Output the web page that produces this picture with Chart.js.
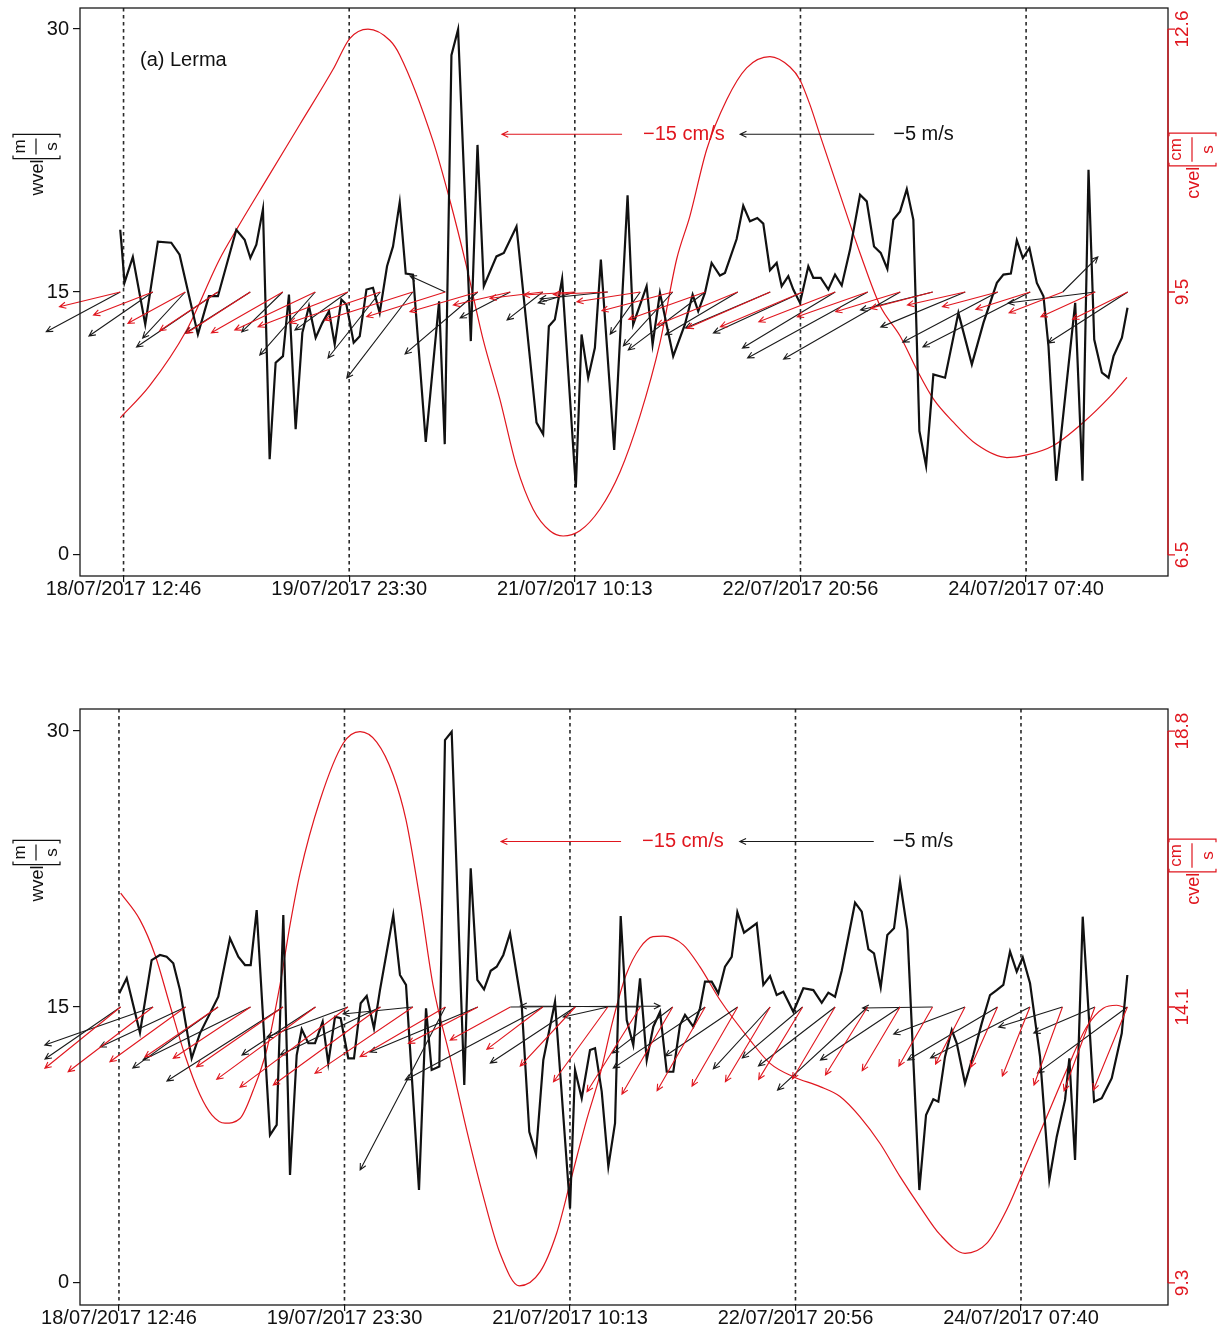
<!DOCTYPE html>
<html>
<head>
<meta charset="utf-8">
<script src="https://cdn.jsdelivr.net/npm/chart.js@4.4.0/dist/chart.umd.min.js"></script>
<style>
  body { margin: 0; background: #fff; }
  #boxA { position: absolute; left: 0; top: 0; width: 1217px; height: 650px; }
  #boxB { position: absolute; left: 0; top: 650px; width: 1217px; height: 679px; }
</style>
</head>
<body>
<div id="boxA"><canvas id="lermaChart"></canvas></div>
<div id="boxB"><canvas id="champotonChart"></canvas></div>
<script>
// time axis: hours after 18/07/2017 12:46
const dateTickHours = [0, 34.717, 69.433, 104.15, 138.867];
const dateTickLabels = ["18/07/2017 12:46", "19/07/2017 23:30", "21/07/2017 10:13", "22/07/2017 20:56", "24/07/2017 07:40"];
const wvelTicks = [0, 15, 30];

// ---- Lerma ----
const lermaWindHours = [-0.51,-0.31,0.15,1.43,3.34,5.28,7.34,8.62,11.44,13.13,14.52,17.35,18.63,19.51,20.43,21.45,22.48,23.40,24.53,25.45,26.48,27.51,28.53,29.56,30.59,31.61,32.49,33.52,34.29,35.41,36.34,37.37,38.38,39.41,40.54,41.46,42.49,43.42,44.54,46.50,48.55,49.42,50.45,51.47,53.43,54.46,55.43,57.38,58.51,60.46,63.54,64.56,65.44,66.36,67.48,69.59,70.47,71.49,72.52,73.44,75.49,77.55,78.41,80.48,81.40,82.53,84.57,86.37,87.56,88.42,89.45,90.48,91.76,92.53,94.33,95.35,96.38,97.51,98.43,99.46,100.49,101.26,102.28,103.05,104.08,105.36,106.13,107.27,108.44,109.47,110.50,111.78,113.32,114.35,115.47,116.50,117.52,118.44,119.48,120.51,121.52,122.45,123.48,124.60,126.40,128.45,130.52,132.30,134.37,135.38,136.52,137.44,138.37,139.38,140.52,141.54,142.31,143.50,146.42,147.54,148.47,149.35,150.53,151.55,152.32,153.61,154.47];
const lermaWindSpeed = [18.55,17.70,15.54,17.00,13.15,17.87,17.81,17.13,12.58,14.76,14.76,18.55,17.98,16.94,17.70,19.73,5.46,10.97,11.34,14.85,7.17,12.67,14.19,12.39,13.24,13.90,12.01,14.57,14.29,12.11,12.48,15.14,15.24,13.81,16.47,17.60,20.11,16.05,15.99,6.45,14.47,6.32,28.51,29.98,12.20,23.39,15.33,17.03,17.23,18.74,7.55,6.89,13.05,13.43,15.75,3.85,12.58,10.11,11.82,16.85,5.99,20.51,13.15,15.33,12.01,14.95,11.34,13.15,14.85,13.90,14.95,16.66,15.94,16.09,18.02,19.92,19.03,19.22,18.90,16.24,16.66,15.33,15.90,15.14,14.38,16.47,15.81,15.81,15.14,15.99,15.37,17.42,20.55,20.17,17.60,17.23,16.32,19.12,19.60,20.87,19.12,7.07,5.08,10.30,10.11,13.81,10.87,13.24,15.52,15.99,16.05,17.95,16.94,17.51,15.52,14.76,11.91,4.23,14.38,4.23,21.97,12.29,10.40,10.11,11.34,12.39,14.10];
const lermaCurHours = [-0.51,4.00,9.65,14.78,17.35,21.97,27.10,32.22,34.80,37.61,40.95,42.49,47.62,50.19,52.76,55.32,57.89,60.46,63.02,65.59,67.64,70.21,73.29,76.37,79.45,82.53,85.10,87.14,89.71,92.80,95.87,99.46,102.54,104.08,105.62,107.16,110.24,113.32,116.40,119.48,122.05,124.60,127.68,131.29,135.91,138.99,143.08,147.70,151.81,154.38];
const lermaCurSpeed = [8.09,8.46,9.10,9.93,10.27,10.85,11.49,12.13,12.49,12.60,12.47,12.30,11.30,10.62,9.85,9.00,8.31,7.53,7.03,6.78,6.72,6.78,7.03,7.46,8.11,8.96,9.93,10.43,11.20,11.78,12.15,12.28,12.16,12.01,11.72,11.37,10.68,10.00,9.39,9.04,8.65,8.31,8.04,7.78,7.63,7.66,7.77,8.04,8.34,8.56];
const lermaCvelTicks = [6.5, 9.55, 12.6];
const lermaCvelLabels = ["6.5", "9.5", "12.6"];
// stick vectors every 5 h: wind (m/s) and current (cm/s)
const lermaStickHours = [-0.5,4.5,9.5,14.5,19.5,24.5,29.5,34.5,39.5,44.5,49.5,54.5,59.5,64.5,69.5,74.5,79.5,84.5,89.5,94.5,99.5,104.5,109.5,114.5,119.5,124.5,129.5,134.5,139.5,144.5,149.5,154.5];
const lermaWindU = [-2.76,-2.38,-1.59,-3.03,-2.41,-1.53,-2.07,-1.97,-1.95,-2.46,-1.31,-2.71,-1.87,-1.33,-1.38,-2.52,-1.12,-1.84,-2.87,-2.70,-3.16,-3.33,-3.46,-4.48,-4.35,-2.69,-3.15,-3.54,-4.00,1.31,-3.25,-2.97];
const lermaWindV = [-1.48,-1.64,-1.72,-2.05,-1.53,-1.49,-2.35,-1.42,-2.46,-3.21,0.60,-2.31,-0.97,-1.04,-0.41,-0.26,-1.57,-2.01,-2.16,-1.60,-1.34,-1.53,-2.09,-2.46,-2.50,-0.67,-1.31,-1.87,-2.05,1.31,-0.41,-1.90];
const lermaCurU = [-7.59,-7.40,-7.16,-7.26,-7.98,-8.91,-10.05,-11.20,-11.29,-10.98,-9.81,-8.46,-7.10,-6.58,-6.46,-6.78,-7.90,-8.84,-9.56,-10.08,-10.38,-10.28,-9.54,-8.80,-8.06,-7.75,-7.21,-6.90,-6.79,-6.69,-6.78,-6.88];
const lermaCurV = [-1.84,-2.88,-3.91,-4.84,-5.16,-5.09,-4.75,-4.34,-3.84,-3.50,-3.09,-2.46,-1.63,-0.79,-0.38,-0.29,-1.21,-2.34,-3.41,-4.13,-4.54,-4.34,-3.71,-3.09,-2.46,-2.04,-1.63,-1.84,-2.16,-2.59,-3.09,-3.41];

// ---- Champotón ----
const champWindHours = [0.05,1.19,3.23,5.03,6.31,7.34,8.36,9.39,11.19,12.47,15.29,17.09,18.37,19.40,20.28,21.20,23.25,24.28,25.30,26.33,27.36,28.13,29.15,30.18,31.36,32.22,33.26,34.13,35.30,36.18,37.21,38.14,39.26,40.18,42.23,43.26,44.19,46.19,47.27,48.14,49.32,50.19,51.22,53.16,54.15,55.17,56.20,57.23,58.15,59.17,60.20,62.00,63.17,64.20,65.33,67.13,69.44,70.21,71.24,72.52,73.29,74.32,75.34,76.37,77.24,78.17,79.18,80.22,81.25,82.26,83.30,84.33,85.34,86.37,87.14,88.42,89.45,90.22,91.25,92.27,93.30,94.33,95.20,96.23,98.18,99.20,100.23,101.26,102.28,103.82,105.36,106.90,108.19,109.21,110.24,111.27,113.32,114.35,115.37,116.24,117.27,118.29,119.32,120.25,121.37,123.22,124.25,125.37,126.14,127.17,128.21,128.98,130.25,131.53,132.82,134.10,135.13,136.15,137.18,138.21,139.14,140.26,141.80,143.23,144.37,145.65,146.31,147.19,148.37,150.12,151.30,152.84,154.38,155.24];
const champWindSpeed = [15.74,16.56,13.60,17.55,17.83,17.73,17.38,15.92,12.21,13.57,15.56,18.73,17.73,17.28,17.28,20.27,8.04,8.59,20.00,5.87,12.39,13.79,13.03,13.03,14.20,11.94,14.47,14.39,12.21,12.21,15.20,15.60,13.84,15.92,20.00,16.74,16.20,5.05,14.93,11.58,11.76,29.51,29.96,10.76,22.54,16.47,15.96,16.97,17.19,17.83,19.01,15.11,8.22,7.01,12.12,15.29,4.06,11.58,10.04,12.66,12.76,10.40,6.32,8.68,19.95,14.29,12.93,16.56,12.12,13.93,14.74,11.48,11.48,14.02,14.57,13.93,14.93,16.38,16.38,15.74,17.19,17.73,20.15,19.04,19.55,16.20,16.68,15.65,15.83,14.74,16.02,15.92,15.23,15.78,15.56,16.97,20.67,20.18,18.14,17.92,16.07,18.91,19.28,21.81,19.18,5.05,9.13,9.98,9.85,12.30,13.75,13.03,10.85,12.39,14.11,15.65,15.92,16.20,18.01,16.92,17.70,16.29,12.30,5.60,7.95,9.95,12.21,6.68,19.91,9.85,10.04,11.13,13.57,16.74];
const champCurHours = [0.26,3.23,5.54,7.85,10.16,12.47,14.32,16.32,18.63,20.68,22.74,24.79,26.33,27.87,30.95,34.53,37.11,39.68,42.23,44.19,46.35,48.34,50.96,53.53,56.09,58.66,61.63,64.82,67.39,69.44,72.01,74.05,76.06,78.06,80.22,82.22,83.76,86.88,89.45,92.53,97.15,100.23,103.82,107.93,111.01,114.09,117.17,120.25,123.33,126.41,130.25,133.59,136.67,139.75,142.83,145.91,148.99,151.54,153.60,155.14];
const champCurSpeed = [16.01,15.55,14.95,14.08,13.22,12.54,12.19,12.05,12.13,12.62,13.31,14.43,15.46,16.35,17.61,18.59,18.79,18.61,18.04,17.27,15.89,14.43,13.19,11.93,10.79,9.81,9.25,9.49,10.16,11.02,12.11,12.88,13.83,14.60,15.07,15.26,15.27,15.12,14.74,14.17,13.48,13.08,12.85,12.68,12.51,12.16,11.70,11.13,10.61,10.13,9.81,9.98,10.56,11.36,12.16,12.97,13.71,14.03,14.08,14.03];
const champCvelTicks = [9.3, 14.05, 18.8];
const champCvelLabels = ["9.3", "14.1", "18.8"];
const champStickHours = [0.25,5.25,10.25,15.25,20.25,25.25,30.25,35.25,40.25,45.25,50.25,55.25,60.25,65.25,70.25,75.25,80.25,85.25,90.25,95.25,100.25,105.25,110.25,115.25,120.25,125.25,130.25,135.25,140.25,145.25,150.25,155.25];
const champWindU = [-2.82,-4.04,-3.19,-3.18,-4.01,-4.33,-2.74,-3.02,-3.74,-2.60,-3.18,-4.02,5.59,-5.13,-3.17,-1.66,-4.47,-2.25,-3.43,-2.70,-2.12,-2.25,-2.86,-3.36,-2.97,-2.61,-2.66,-3.35,-3.71,-2.38,-2.28,-3.35];
const champWindV = [-1.94,-1.42,-1.49,-2.28,-1.98,-2.76,-1.79,-1.12,-1.79,-0.26,-6.08,-1.68,0.04,-2.72,-2.09,-0.37,0.04,-1.72,-2.28,-1.83,-2.31,-1.90,-2.20,-3.10,-1.98,-0.04,-1.01,-1.98,-1.90,-0.75,-0.97,-2.46];
const champCurU = [-9.46,-10.61,-9.45,-9.14,-9.65,-10.79,-12.34,-13.49,-13.38,-12.23,-10.65,-8.68,-7.51,-6.99,-6.88,-6.78,-6.65,-6.34,-6.01,-5.70,-5.59,-5.49,-5.33,-5.26,-4.73,-4.21,-3.68,-3.36,-3.45,-3.56,-3.86,-4.25];
const champCurV = [-7.66,-8.09,-6.84,-6.25,-6.41,-7.46,-9.04,-10.04,-9.75,-8.29,-6.21,-4.54,-4.13,-5.29,-7.38,-9.34,-10.59,-10.88,-10.46,-9.88,-9.34,-9.04,-9.00,-8.50,-7.96,-7.38,-7.13,-7.54,-8.63,-9.75,-10.46,-10.38];

const RED = '#e0161e';
const INK = '#111111';
const FONT = '"Liberation Sans", Arial, Helvetica, sans-serif';
Chart.defaults.font.family = FONT;
Chart.defaults.color = INK;

function drawArrow(ctx, x0, y0, x1, y1, color) {
  const head = 7, spread = 0.45;
  const ang = Math.atan2(y1 - y0, x1 - x0);
  ctx.strokeStyle = color;
  ctx.lineWidth = 1.1;
  ctx.beginPath();
  ctx.moveTo(x0, y0);
  ctx.lineTo(x1, y1);
  ctx.moveTo(x1 - head * Math.cos(ang - spread), y1 - head * Math.sin(ang - spread));
  ctx.lineTo(x1, y1);
  ctx.lineTo(x1 - head * Math.cos(ang + spread), y1 - head * Math.sin(ang + spread));
  ctx.stroke();
}

// rotated axis title like  wvel[m/s]  with the unit as a fraction
function drawUnitTitle(ctx, cx, cy, name, num, den, color) {
  ctx.save();
  ctx.translate(cx, cy);
  ctx.rotate(-Math.PI / 2);
  ctx.fillStyle = color;
  ctx.strokeStyle = color;
  ctx.lineWidth = 1.2;
  ctx.textBaseline = 'alphabetic';
  ctx.font = '18px ' + FONT;
  const wName = ctx.measureText(name).width;
  ctx.font = '17px ' + FONT;
  const wFrac = Math.max(ctx.measureText(num).width, ctx.measureText(den).width) + 2;
  const br = 4;
  const total = wName + 1 + br + wFrac + br;
  let u = -total / 2;
  ctx.font = '18px ' + FONT;
  ctx.textAlign = 'left';
  ctx.fillText(name, u, 0);
  u += wName + 1;
  const top = -30, bot = 17;
  ctx.beginPath();
  ctx.moveTo(u + 3, top); ctx.lineTo(u, top); ctx.lineTo(u, bot); ctx.lineTo(u + 3, bot);
  ctx.stroke();
  u += br;
  ctx.font = '17px ' + FONT;
  ctx.textAlign = 'center';
  ctx.fillText(num, u + wFrac / 2, -18);
  ctx.fillText(den, u + wFrac / 2, 14);
  ctx.beginPath();
  ctx.moveTo(u, -7); ctx.lineTo(u + wFrac, -7);
  ctx.stroke();
  u += wFrac + br;
  ctx.beginPath();
  ctx.moveTo(u - 3, top); ctx.lineTo(u, top); ctx.lineTo(u, bot); ctx.lineTo(u - 3, bot);
  ctx.stroke();
  ctx.restore();
}

function stickPlugin(cfg) {
  return {
    id: 'stickPlot',
    beforeDatasetsDraw(chart) {
      const { ctx, chartArea: a, scales: { x } } = chart;
      ctx.save();
      ctx.strokeStyle = '#2a2a2a';
      ctx.lineWidth = 1.6;
      ctx.setLineDash([3.5, 3.5]);
      x.ticks.forEach(t => {
        const px = x.getPixelForValue(t.value);
        ctx.beginPath();
        ctx.moveTo(px, a.top);
        ctx.lineTo(px, a.bottom);
        ctx.stroke();
      });
      ctx.restore();
    },
    afterDatasetsDraw(chart) {
      const { ctx, scales: { x, y } } = chart;
      const windK = x.getPixelForValue(cfg.windHoursPerUnit) - x.getPixelForValue(0);
      const curK = x.getPixelForValue(cfg.curHoursPerUnit) - x.getPixelForValue(0);
      const y0 = y.getPixelForValue(cfg.baseline);
      ctx.save();
      cfg.hours.forEach((t, i) => {
        const x0 = x.getPixelForValue(t);
        drawArrow(ctx, x0, y0, x0 + cfg.windU[i] * windK, y0 - cfg.windV[i] * windK, '#1a1a1a');
      });
      cfg.hours.forEach((t, i) => {
        const x0 = x.getPixelForValue(t);
        drawArrow(ctx, x0, y0, x0 + cfg.curU[i] * curK, y0 - cfg.curV[i] * curK, RED);
      });
      // reference vectors
      const ky = y.getPixelForValue(cfg.keyY);
      const cx0 = x.getPixelForValue(cfg.curKeyHour);
      const wx0 = x.getPixelForValue(cfg.windKeyHour);
      drawArrow(ctx, cx0, ky, cx0 + cfg.curKey * curK, ky, RED);
      drawArrow(ctx, wx0, ky, wx0 + cfg.windKey * windK, ky, '#1a1a1a');
      ctx.font = '20px ' + FONT;
      ctx.textAlign = 'left';
      ctx.textBaseline = 'middle';
      ctx.fillStyle = RED;
      ctx.fillText('\u2212' + Math.abs(cfg.curKey) + ' cm/s', cx0 + 21, ky);
      ctx.fillStyle = INK;
      ctx.fillText('\u2212' + Math.abs(cfg.windKey) + ' m/s', wx0 + 19, ky);
      ctx.restore();
    },
    afterDraw(chart) {
      const { ctx, chartArea: a, scales: { y2 } } = chart;
      ctx.save();
      ctx.strokeStyle = '#1a1a1a';
      ctx.lineWidth = 1.3;
      ctx.strokeRect(a.left, a.top, a.right - a.left, a.bottom - a.top);
      // right axis in red
      const yLo = y2.getPixelForValue(cfg.cvelTicks[0]);
      const yHi = y2.getPixelForValue(cfg.cvelTicks[cfg.cvelTicks.length - 1]);
      ctx.strokeStyle = RED;
      ctx.beginPath();
      ctx.moveTo(a.right, yLo);
      ctx.lineTo(a.right, yHi);
      cfg.cvelTicks.forEach(v => {
        const py = y2.getPixelForValue(v);
        ctx.moveTo(a.right, py);
        ctx.lineTo(a.right + 7, py);
      });
      ctx.stroke();
      ctx.fillStyle = RED;
      ctx.font = '19px ' + FONT;
      ctx.textAlign = 'center';
      ctx.textBaseline = 'middle';
      cfg.cvelTicks.forEach((v, i) => {
        ctx.save();
        ctx.translate(a.right + 15, y2.getPixelForValue(v));
        ctx.rotate(-Math.PI / 2);
        ctx.fillText(cfg.cvelLabels[i], 0, 0);
        ctx.restore();
      });
      // panel name
      ctx.fillStyle = INK;
      ctx.font = '20px ' + FONT;
      ctx.textAlign = 'left';
      ctx.fillText(cfg.name, cfg.nameX, cfg.nameY);
      ctx.restore();
      drawUnitTitle(ctx, 43, cfg.titleY, 'wvel', 'm', 's', INK);
      drawUnitTitle(ctx, 1199, cfg.titleY + 1, 'cvel', 'cm', 's', RED);
    }
  };
}

function buildScales(xMin, xMax, xAxisHeight, cvelTicks) {
  const span = cvelTicks[cvelTicks.length - 1] - cvelTicks[0];
  return {
    x: {
      type: 'linear', min: xMin, max: xMax,
      afterBuildTicks: s => { s.ticks = dateTickHours.map(v => ({ value: v })); },
      afterFit: s => { s.height = xAxisHeight; s.paddingLeft = 0; s.paddingRight = 0; },
      grid: { drawOnChartArea: false, drawTicks: true, tickLength: 6, color: INK, lineWidth: 1.2 },
      border: { display: false },
      ticks: {
        autoSkip: false, maxRotation: 0, padding: -5,
        font: { size: 20, lineHeight: 1.2 }, color: INK,
        callback: (v, i) => dateTickLabels[i]
      }
    },
    y: {
      position: 'left', min: -1.2, max: 31.2,
      afterBuildTicks: s => { s.ticks = wvelTicks.map(v => ({ value: v })); },
      afterFit: s => { s.width = 80; s.paddingTop = 0; s.paddingBottom = 0; },
      grid: { drawOnChartArea: false, drawTicks: true, tickLength: 7, color: INK, lineWidth: 1.2 },
      border: { display: false },
      ticks: { padding: 4, font: { size: 20 }, color: INK }
    },
    y2: {
      position: 'right',
      min: cvelTicks[0] - 0.04 * span,
      max: cvelTicks[cvelTicks.length - 1] + 0.04 * span,
      afterFit: s => { s.width = 49; s.paddingTop = 0; s.paddingBottom = 0; },
      grid: { display: false },
      border: { display: false },
      ticks: { display: false }
    }
  };
}

function pairs(xs, ys) {
  return xs.map((t, i) => ({ x: t, y: ys[i] }));
}

// (a) Lerma
new Chart(document.getElementById('lermaChart'), {
  type: 'line',
  data: {
    datasets: [
      {
        label: 'wvel', yAxisID: 'y', order: 1,
        data: pairs(lermaWindHours, lermaWindSpeed),
        borderColor: INK, borderWidth: 2.2, pointRadius: 0, tension: 0
      },
      {
        label: 'cvel', yAxisID: 'y2', order: 2,
        data: pairs(lermaCurHours, lermaCurSpeed),
        borderColor: RED, borderWidth: 1.2, pointRadius: 0, cubicInterpolationMode: 'monotone'
      }
    ]
  },
  options: {
    responsive: true, maintainAspectRatio: false, animation: false, devicePixelRatio: 1,
    layout: { padding: { top: 8, left: 0, right: 0, bottom: 0 } },
    plugins: { legend: { display: false }, tooltip: { enabled: false } },
    scales: buildScales(-6.7, 160.7, 74, lermaCvelTicks)
  },
  plugins: [stickPlugin({
    hours: lermaStickHours, windU: lermaWindU, windV: lermaWindV, curU: lermaCurU, curV: lermaCurV,
    baseline: 15, windHoursPerUnit: 4.126, curHoursPerUnit: 1.232,
    keyY: 24, curKeyHour: 76.7, windKeyHour: 115.5, curKey: -15, windKey: -5,
    cvelTicks: lermaCvelTicks, cvelLabels: lermaCvelLabels,
    name: '(a) Lerma', nameX: 140, nameY: 60, titleY: 165
  })]
});

// (b) Champotón
new Chart(document.getElementById('champotonChart'), {
  type: 'line',
  data: {
    datasets: [
      {
        label: 'wvel', yAxisID: 'y', order: 1,
        data: pairs(champWindHours, champWindSpeed),
        borderColor: INK, borderWidth: 2.2, pointRadius: 0, tension: 0
      },
      {
        label: 'cvel', yAxisID: 'y2', order: 2,
        data: pairs(champCurHours, champCurSpeed),
        borderColor: RED, borderWidth: 1.2, pointRadius: 0, cubicInterpolationMode: 'monotone'
      }
    ]
  },
  options: {
    responsive: true, maintainAspectRatio: false, animation: false, devicePixelRatio: 1,
    layout: { padding: { top: 59, left: 0, right: 0, bottom: 0 } },
    plugins: { legend: { display: false }, tooltip: { enabled: false } },
    scales: buildScales(-6.0, 161.5, 24, champCvelTicks)
  },
  plugins: [stickPlugin({
    hours: champStickHours, windU: champWindU, windV: champWindV, curU: champCurU, curV: champCurV,
    baseline: 15, windHoursPerUnit: 4.126, curHoursPerUnit: 1.232,
    keyY: 24, curKeyHour: 77.3, windKeyHour: 116.2, curKey: -15, windKey: -5,
    cvelTicks: champCvelTicks, cvelLabels: champCvelLabels,
    name: '(b) Champot\u00f3n', nameX: 117, nameY: 763, titleY: 221
  })]
});
</script>
</body>
</html>
